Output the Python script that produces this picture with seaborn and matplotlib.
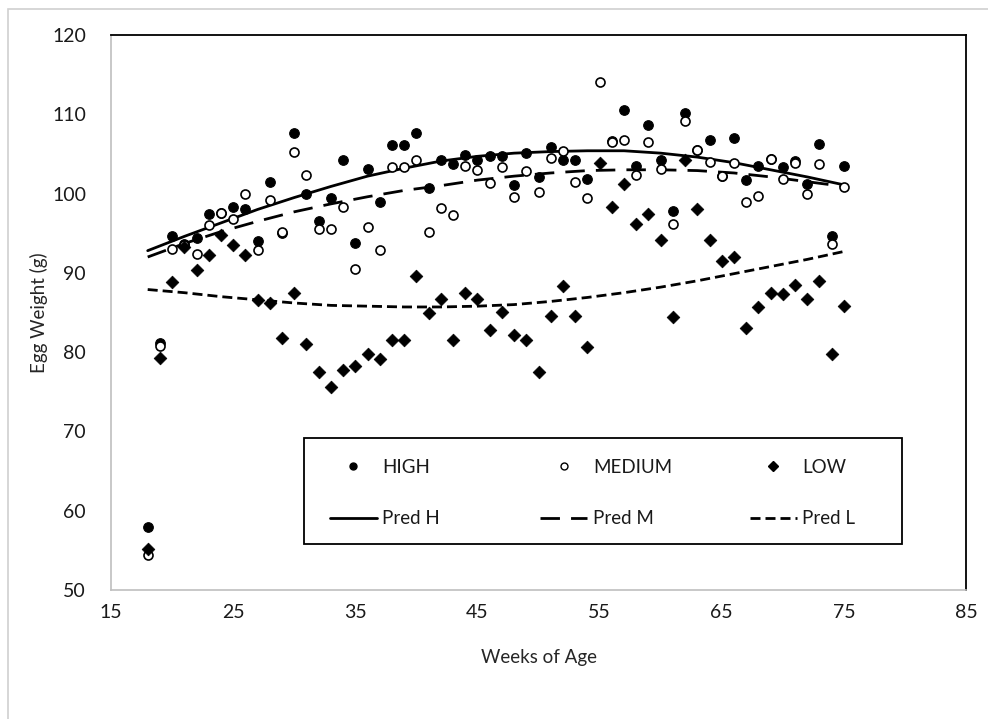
"""Egg weight by week of age for HIGH / MEDIUM / LOW groups with predicted curves."""
import numpy as np
import pandas as pd
import matplotlib
matplotlib.use('Agg')
import matplotlib.pyplot as plt
from matplotlib.lines import Line2D
from matplotlib.patches import Rectangle
import seaborn as sns

weeks = list(range(18, 76))

high = [58.0, 81.1, 94.7, 93.6, 94.4, 97.4, 97.5, 98.3, 98.1, 94.0,
        101.5, 95.0, 107.7, 100.0, 96.6, 99.4, 104.2, 93.8, 103.1, 98.9,
        106.1, 106.1, 107.6, 100.7, 104.2, 103.7, 104.9, 104.2, 104.7, 104.7,
        101.1, 105.1, 102.1, 105.9, 104.2, 104.2, 101.8, np.nan, 106.6, 110.5,
        103.5, 108.7, 104.2, 97.8, 110.2, 105.5, 106.8, 102.2, 107.0, 101.7,
        103.5, 104.3, 103.3, 104.1, 101.2, 106.2, 94.6, 103.5]

medium = [54.4, 80.8, 93.0, 93.5, 92.4, 96.0, 97.6, 96.8, 100.0, 92.9,
          99.2, 95.2, 105.2, 102.4, 95.5, 95.5, 98.3, 90.5, 95.8, 92.9,
          103.4, 103.3, 104.2, 95.1, 98.2, 97.3, 103.5, 103.0, 101.3, 103.3,
          99.6, 102.8, 100.2, 104.5, 105.4, 101.5, 99.5, 114.1, 106.5, 106.8,
          102.4, 106.5, 103.1, 96.2, 109.2, 105.5, 104.0, 102.2, 103.8, 99.0,
          99.7, 104.3, 101.9, 103.9, 100.0, 103.7, 93.6, 100.8]

low = [55.2, 79.3, 88.8, 93.3, 90.4, 92.3, 94.8, 93.5, 92.3, 86.6,
       86.2, 81.8, 87.5, 81.0, 77.5, 75.6, 77.8, 78.3, 79.8, 79.1,
       81.5, 81.5, 89.6, 85.0, 86.7, 81.5, 87.5, 86.7, 82.8, 85.1,
       82.2, 81.5, 77.5, 84.5, 88.3, 84.5, 80.7, 103.8, 98.3, 101.2,
       96.2, 97.4, 94.2, 84.4, 104.2, 98.1, 94.2, 91.5, 92.0, 83.1,
       85.7, 87.5, 87.3, 88.5, 86.7, 89.0, 79.8, 85.8]

# predicted curves every 3 weeks
pred_weeks = [18, 21, 24, 27, 30, 33, 36, 39, 42, 45,
              48, 51, 54, 57, 60, 63, 66, 69, 72, 75]
pred_h = [92.8, 94.6, 96.3, 98.0, 99.5, 100.9, 102.2, 103.2, 104.1, 104.7,
          105.1, 105.3, 105.4, 105.4, 105.1, 104.6, 103.9, 103.0, 102.1, 101.1]
pred_m = [92.0, 93.7, 95.2, 96.5, 97.7, 98.7, 99.6, 100.4, 101.0, 101.7,
          102.2, 102.6, 102.9, 103.0, 103.0, 102.9, 102.6, 102.1, 101.5, 100.9]
pred_l = [87.9, 87.5, 87.0, 86.6, 86.2, 85.9, 85.8, 85.7, 85.7, 85.8,
          86.0, 86.4, 86.9, 87.5, 88.2, 89.0, 89.9, 90.8, 91.7, 92.7]

dash_m = [7, 4]
dash_l = [3.6, 1.8]

sns.set_style('white')
plt.rcParams['font.family'] = ['Lato', 'DejaVu Sans']
plt.rcParams['text.color'] = '#1a1a1a'

fig = plt.figure(figsize=(9.88, 7.19), dpi=100)
ax = fig.add_axes([0.1124, 0.1794, 0.8654, 0.7719])

# light grey chart-area border
fig.patches.append(Rectangle((8 / 988, -0.05), 1.05, 1 - 9 / 719 + 0.05,
                             transform=fig.transFigure, fill=False,
                             edgecolor='#d0d0d0', linewidth=1.2))

sns.lineplot(x=pred_weeks, y=pred_h, ax=ax, color='black', linewidth=2.0)
sns.lineplot(x=pred_weeks, y=pred_m, ax=ax, color='black', linewidth=2.0)
ax.lines[-1].set_dashes(dash_m)
sns.lineplot(x=pred_weeks, y=pred_l, ax=ax, color='black', linewidth=2.0)
ax.lines[-1].set_dashes(dash_l)

df = pd.DataFrame({'week': weeks, 'high': high, 'medium': medium, 'low': low})
sns.scatterplot(data=df, x='week', y='high', ax=ax, marker='o', s=48,
                color='black', edgecolor='black', linewidth=0.8, zorder=3)
sns.scatterplot(data=df, x='week', y='medium', ax=ax, marker='o', s=42,
                facecolor='white', edgecolor='black', linewidth=1.2, zorder=3)
sns.scatterplot(data=df, x='week', y='low', ax=ax, marker='D', s=42,
                color='black', edgecolor='black', linewidth=0.5, zorder=3)

ax.set_xlim(15, 85)
ax.set_ylim(50, 120)
ax.set_xticks(range(15, 86, 10))
ax.set_yticks(range(50, 121, 10))
ax.tick_params(length=0, labelsize=14, labelcolor='#1a1a1a')
ax.tick_params(axis='y', pad=18)
ax.tick_params(axis='x', pad=10)
ax.set_xlabel('Weeks of Age', fontsize=13.5, labelpad=20)
ax.set_ylabel('Egg Weight (g)', fontsize=13.5, labelpad=3)

for side in ['top', 'right']:
    ax.spines[side].set_color('black')
    ax.spines[side].set_linewidth(1.3)
for side in ['left', 'bottom']:
    ax.spines[side].set_color('#bfbfbf')
    ax.spines[side].set_linewidth(1.2)

# legend box drawn separately, one legend column per group inside it
ax.add_patch(Rectangle((0.226, 0.083), 0.699, 0.191, transform=ax.transAxes,
                       fill=True, facecolor='white', edgecolor='black',
                       linewidth=1.3, zorder=4))

columns = [
    (0.256, [Line2D([], [], marker='o', color='black', linestyle='none', markersize=5),
             Line2D([], [], color='black', linewidth=2.0)],
     ['HIGH', 'Pred H']),
    (0.502, [Line2D([], [], marker='o', markerfacecolor='white', markeredgecolor='black',
                    linestyle='none', markersize=5, markeredgewidth=1.0),
             Line2D([], [], color='black', linewidth=2.0, dashes=dash_m)],
     ['MEDIUM', 'Pred M']),
    (0.747, [Line2D([], [], marker='D', color='black', linestyle='none', markersize=5),
             Line2D([], [], color='black', linewidth=2.0, dashes=dash_l)],
     ['LOW', 'Pred L']),
]
for x0, handles, labels in columns:
    leg = ax.legend(handles, labels, loc='center left',
                    bbox_to_anchor=(x0, 0.175), frameon=False,
                    fontsize=13.5, handlelength=2.5, handletextpad=0.3,
                    labelspacing=1.85, borderpad=0, borderaxespad=0)
    leg.set_zorder(5)
    ax.add_artist(leg)
ax.legend_ = None  # every column is already an artist, avoid drawing one twice

fig.savefig('out.png', dpi=100)
